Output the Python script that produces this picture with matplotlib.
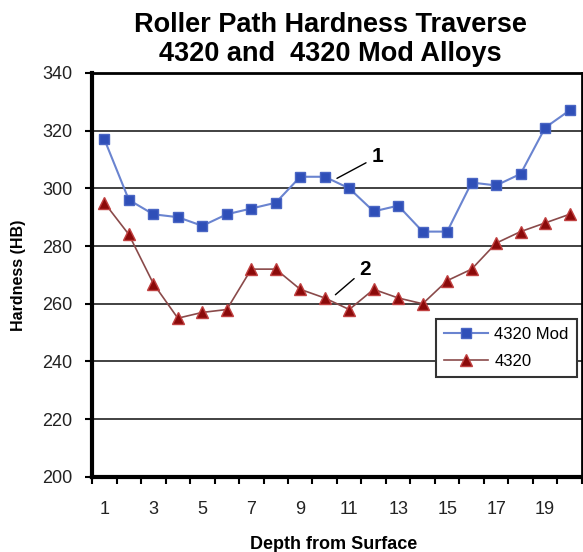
import matplotlib
matplotlib.use("Agg")
from matplotlib import pyplot
from matplotlib.ticker import FixedLocator
import numpy as np

pyplot.rcParams["font.family"] = ["Liberation Sans", "DejaVu Sans"]

depth = np.arange(1, 21)
mod_4320 = [317, 296, 291, 290, 287, 291, 293, 295, 304, 304,
            300, 292, 294, 285, 285, 302, 301, 305, 321, 327]
plain_4320 = [295, 284, 267, 255, 257, 258, 272, 272, 265, 262,
              258, 265, 262, 260, 268, 272, 281, 285, 288, 291]
y_ticks = [200, 220, 240, 260, 280, 300, 320, 340]
x_labels = [1, 3, 5, 7, 9, 11, 13, 15, 17, 19]

fig = pyplot.figure(figsize=(5.83, 5.52), dpi=100)
ax = fig.add_axes([0.158, 0.136, 0.84, 0.732])

ax.plot(depth, mod_4320, color="#6a84d0", linewidth=1.5, marker="s",
        markersize=7, markerfacecolor="#2f4fb8", markeredgecolor="#4a66c4",
        label="4320 Mod")
ax.plot(depth, plain_4320, color="#8a4a4a", linewidth=1.2, marker="^",
        markersize=8, markerfacecolor="#8b0a0a", markeredgecolor="#c04040",
        label="4320")

ax.set_xlim(0.5, 20.5)
ax.set_ylim(200, 340)
ax.set_yticks(y_ticks)
ax.yaxis.grid(True, color="#333333", linewidth=1.3)
ax.set_axisbelow(True)

ax.xaxis.set_major_locator(FixedLocator(x_labels))
ax.xaxis.set_minor_locator(FixedLocator(np.arange(0.5, 21, 1)))
ax.tick_params(axis="x", which="major", length=0, pad=17, labelsize=13,
               labelcolor="#222222")
ax.tick_params(axis="x", which="minor", length=5, width=1.5, direction="out")
ax.tick_params(axis="y", length=5, width=1.5, direction="out", labelsize=13,
               pad=9, labelcolor="#222222")

ax.spines["left"].set_linewidth(3)
ax.spines["bottom"].set_linewidth(3)
ax.spines["top"].set_linewidth(2)
ax.spines["right"].set_linewidth(2)

ax.set_ylabel("Hardness (HB)", fontsize=11.5, fontweight="bold", labelpad=12)
fig.text(0.573, 0.0127, "Depth from Surface", ha="center", va="center",
         fontsize=13, fontweight="bold")
fig.suptitle("Roller Path Hardness Traverse\n4320 and  4320 Mod Alloys",
             x=0.566, y=0.978, fontsize=19.5, fontweight="bold", linespacing=1.12)

ax.annotate("1", xy=(10.4, 303), xytext=(11.9, 309), fontsize=15,
            fontweight="bold", arrowprops=dict(arrowstyle="-", color="black", lw=1))
ax.annotate("2", xy=(10.35, 262.5), xytext=(11.4, 270), fontsize=15,
            fontweight="bold", arrowprops=dict(arrowstyle="-", color="black", lw=1))

leg = ax.legend(loc="lower right", bbox_to_anchor=(0.99, 0.247), fontsize=12,
                frameon=True, fancybox=False, edgecolor="#333333",
                handlelength=2.6, borderpad=0.5, labelspacing=0.7,
                handletextpad=0.4, framealpha=1, borderaxespad=0)
leg.get_frame().set_linewidth(1.5)

pyplot.savefig("out.png", dpi=100)
